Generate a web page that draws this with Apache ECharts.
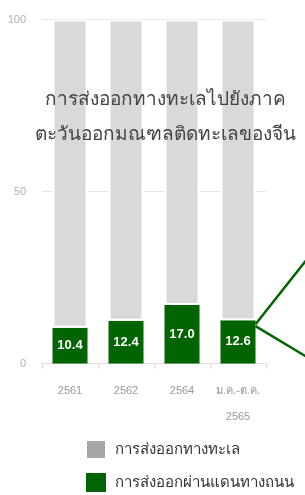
<!DOCTYPE html>
<html>
<head>
<meta charset="utf-8">
<script src="https://cdn.jsdelivr.net/npm/echarts@6/dist/echarts.min.js"></script>
<style>html,body{margin:0;padding:0;background:#fff;}#c{width:305px;height:495px;}</style>
</head>
<body>
<div id="c"></div>
<script>
var categories = ['2561', '2562', '2564', 'ม.ค.-ต.ค.\n2565'];
var roadValues = [10.4, 12.4, 17.0, 12.6];
var seaValues = [89.6, 87.6, 83.0, 87.4];
var yTicks = [0, 50, 100];
var seriesNames = ['การส่งออกผ่านแดนทางถนน', 'การส่งออกทางทะเล'];
var titleLines = ['การส่งออกทางทะเลไปยังภาค', 'ตะวันออกมณฑลติดทะเลของจีน'];

var chart = echarts.init(document.getElementById('c'), null, {renderer: 'canvas'});
var BW = 35;
var option = {
  animation: false,
  textStyle: {fontFamily: 'Liberation Sans, Arial, sans-serif'},
  grid: {left: 42, right: 39, top: 19.5, bottom: 131.5, containLabel: false},
  legend: {
    orient: 'vertical',
    left: 85,
    top: 439,
    padding: 0,
    itemWidth: 20,
    itemHeight: 19,
    itemGap: 13,
    icon: 'rect',
    textStyle: {fontSize: 15, color: '#333', padding: [0, 0, 0, 4]},
    data: [
      {name: seriesNames[1], itemStyle: {color: '#a6a6a6'}},
      {name: seriesNames[0], itemStyle: {color: '#006400'}}
    ]
  },
  xAxis: {
    type: 'category',
    data: categories,
    axisLine: {lineStyle: {color: '#ddd'}},
    axisTick: {show: true, length: 5, lineStyle: {color: '#ddd'}},
    axisLabel: {color: '#999', fontSize: 11, lineHeight: 26, margin: 14, interval: 0}
  },
  yAxis: {
    type: 'value',
    min: 0, max: 100, interval: 50,
    axisLabel: {color: '#b0b0b0', fontSize: 11, margin: 16},
    splitLine: {lineStyle: {color: '#e6e6e6'}},
    axisLine: {show: false},
    axisTick: {show: false}
  },
  series: [
    {
      name: seriesNames[0],
      type: 'bar',
      stack: 'a',
      barWidth: BW,
      data: roadValues,
      itemStyle: {color: '#006400'},
      label: {
        show: true, position: 'inside', color: '#fff', fontSize: 13, fontWeight: 'bold',
        formatter: function (p) { return p.value.toFixed(1); }
      }
    },
    {
      name: seriesNames[1],
      type: 'bar',
      stack: 'a',
      barWidth: BW,
      data: seaValues,
      itemStyle: {color: '#d9d9d9', borderColor: '#fff', borderWidth: 2}
    }
  ]
};
chart.setOption(option);

var p = chart.convertToPixel({xAxisIndex: 0, yAxisIndex: 0}, [3, roadValues[3]]);
var sx = p[0] + BW / 2, sy = p[1] + 4;
chart.setOption({
  graphic: [
    {type: 'text', z: 20, x: 165, y: 100,
      style: {text: titleLines[0], fontSize: 19, fill: '#444', align: 'center', verticalAlign: 'middle', fontFamily: 'Liberation Sans, Arial, sans-serif'}},
    {type: 'text', z: 20, x: 165, y: 135,
      style: {text: titleLines[1], fontSize: 19, fill: '#444', align: 'center', verticalAlign: 'middle', fontFamily: 'Liberation Sans, Arial, sans-serif'}},
    {type: 'line', z: 10, shape: {x1: sx, y1: sy, x2: sx + 60, y2: sy - 75.6}, style: {stroke: '#006400', lineWidth: 2.5}},
    {type: 'line', z: 10, shape: {x1: sx, y1: sy + 2, x2: sx + 60, y2: sy + 38}, style: {stroke: '#006400', lineWidth: 2.5}}
  ]
});
</script>
</body>
</html>
